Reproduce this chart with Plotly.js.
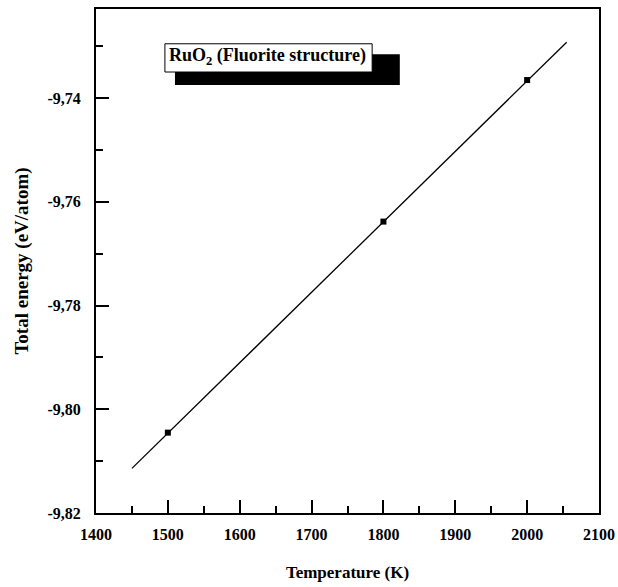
<!DOCTYPE html>
<html>
<head>
<meta charset="utf-8">
<script src="https://cdn.plot.ly/plotly-3.0.1.min.js"></script>
<style>html,body{margin:0;padding:0;background:#fff;}#chart{width:618px;height:587px;}</style>
</head>
<body>
<div id="chart"></div>
<script>
// Data
const temperatures = [1500, 1800, 2000];
const totalEnergy = [-9.8045, -9.7638, -9.7365];
const fitX = [1450, 2055];
const fitY = [-9.8114, -9.7292];
const xTickVals = [1400, 1500, 1600, 1700, 1800, 1900, 2000, 2100];
const xTickText = ['1400', '1500', '1600', '1700', '1800', '1900', '2000', '2100'];
const yTickVals = [-9.82, -9.80, -9.78, -9.76, -9.74];
const yTickText = ['-9,82', '-9,80', '-9,78', '-9,76', '-9,74'];

const fam = 'Liberation Serif, Times New Roman, serif';
const bold = s => '<b>' + s + '</b>';

const traces = [
  {x: fitX, y: fitY, mode: 'lines', line: {color: '#000', width: 1.3}, hoverinfo: 'skip'},
  {x: temperatures, y: totalEnergy, mode: 'markers', marker: {symbol: 'square', size: 6, color: '#000'}}
];

const layout = {
  width: 618, height: 587,
  margin: {l: 96, r: 19, t: 9, b: 74},
  paper_bgcolor: '#fff', plot_bgcolor: '#fff',
  showlegend: false,
  font: {family: fam, color: '#000', size: 16},
  xaxis: {
    range: [1400, 2100],
    tickvals: xTickVals, ticktext: xTickText.map(bold),
    ticks: 'inside', ticklen: 13, tickwidth: 2, tickcolor: '#000',
    ticklabelstandoff: 6,
    showline: true, linecolor: '#000', linewidth: 2, mirror: true,
    showgrid: false, zeroline: false,
    tickfont: {family: fam, size: 16, color: '#000'},
    minor: {dtick: 50, ticks: 'inside', ticklen: 7, tickwidth: 2, tickcolor: '#000', showgrid: false},
    title: {text: bold('Temperature (K)'), font: {family: fam, size: 17, color: '#000'}, standoff: 24}
  },
  yaxis: {
    range: [-9.82, -9.7228],
    tickvals: yTickVals, ticktext: yTickText.map(bold),
    ticks: 'inside', ticklen: 13, tickwidth: 2, tickcolor: '#000',
    ticklabelstandoff: 10,
    showline: true, linecolor: '#000', linewidth: 2, mirror: true,
    showgrid: false, zeroline: false,
    tickfont: {family: fam, size: 16, color: '#000'},
    minor: {tickvals: [-9.81, -9.79, -9.77, -9.75, -9.73], ticks: 'inside', ticklen: 7, tickwidth: 2, tickcolor: '#000', showgrid: false},
    title: {text: bold('Total energy (eV/atom)'), font: {family: fam, size: 19, color: '#000'}, standoff: 14}
  },
  shapes: [
    {type: 'rect', xref: 'paper', yref: 'paper', x0: 0.157, x1: 0.604, y0: 0.849, y1: 0.910, fillcolor: '#000', line: {width: 0}},
    {type: 'rect', xref: 'paper', yref: 'paper', x0: 0.137, x1: 0.549, y0: 0.875, y1: 0.931, fillcolor: '#fff', line: {color: '#000', width: 1}}
  ],
  annotations: [
    {xref: 'paper', yref: 'paper', x: 0.141, y: 0.905, xanchor: 'left', yanchor: 'middle', showarrow: false,
     text: bold('RuO<sub>2</sub> (Fluorite structure)'), font: {family: fam, size: 18, color: '#000'}}
  ]
};

Plotly.newPlot('chart', traces, layout, {displayModeBar: false, staticPlot: true});
</script>
</body>
</html>
